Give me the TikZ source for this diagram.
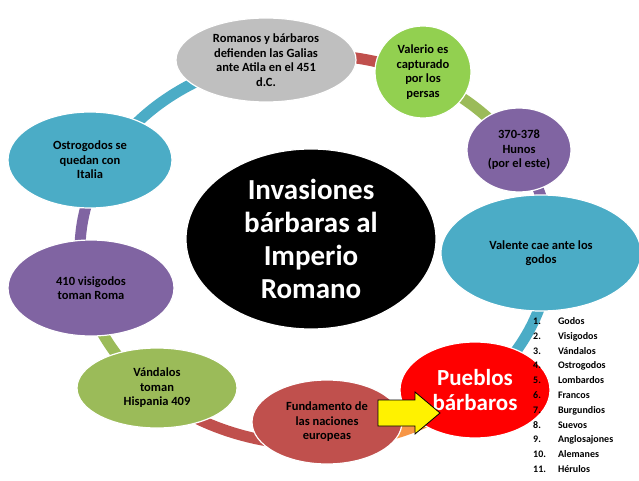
\documentclass[tikz,border=0pt]{standalone}
\usepackage{fontspec}
\setmainfont{Carlito}
\usetikzlibrary{shapes.geometric}
\definecolor{cred}{HTML}{C0504D}
\definecolor{colive}{HTML}{9BBB59}
\definecolor{cpurple}{HTML}{8064A2}
\definecolor{cblue}{HTML}{4BACC6}
\definecolor{corange}{HTML}{F79646}
\definecolor{cgreen}{HTML}{92D050}
\definecolor{cgray}{HTML}{BFBFBF}
\tikzset{
 ev/.style={ellipse,draw=white,line width=1.2pt,inner sep=0pt,align=center,font=\bfseries\fontsize{12.5}{14.5}\selectfont},
 ring/.style={line width=11pt}
}
\begin{document}
\begin{tikzpicture}[x=1pt,y=1pt]
\useasboundingbox (0,0) rectangle (639,480);
\fill[white] (0,0) rectangle (639,480);
\def\rs#1#2#3{\draw[ring,#3] (315,230) ++(#1:235 and 195) arc[start angle=#1,end angle=#2,x radius=235,y radius=195];}
\rs{102}{63}{cred}
\rs{63}{30}{colive}
\rs{30}{0}{cpurple}
\rs{0}{-46}{cblue}
\rs{-46}{-87}{corange}
\rs{-87}{-134}{cred}
\rs{-134}{-170}{colive}
\rs{-170}{-206}{cpurple}
\rs{154}{102}{cblue}
\node[ev,fill=black,minimum width=250pt,minimum height=180pt,text=white,font=\bfseries\fontsize{29}{33}\selectfont] (c) at (311,241) {Invasiones\\bárbaras al\\Imperio\\Romano};
\node[ev,fill=cgray,minimum width=180pt,minimum height=84pt] (g) at (266,420) {Romanos y bárbaros\\defienden las Galias\\ante Atila en el 451\\d.C.};
\node[ev,fill=cgreen,minimum width=96pt,minimum height=92pt] (v) at (423,408) {Valerio es\\capturado\\por los\\persas};
\node[ev,fill=cpurple,minimum width=104pt,minimum height=84pt] (h) at (519,330) {370-378\\Hunos\\(por el este)};
\node[ev,fill=cblue,minimum width=200pt,minimum height=116pt] (va) at (541,227) {Valente cae ante los\\godos};
\node[ev,fill=cred,minimum width=150pt,minimum height=84pt] (f) at (327,58) {Fundamento de\\las naciones\\europeas};
\node[ev,fill=colive,minimum width=160pt,minimum height=80pt] (vd) at (157,92) {Vándalos\\toman\\Hispania 409};
\node[ev,fill=cpurple,minimum width=166pt,minimum height=96pt] (r) at (91,192) {410 visigodos\\toman Roma};
\node[ev,fill=cblue,minimum width=164pt,minimum height=96pt] (o) at (90,320) {Ostrogodos se\\quedan con\\Italia};
\node[ev,fill=red,minimum width=150pt,minimum height=96pt,text=white,font=\bfseries\fontsize{23}{25}\selectfont] (p) at (475,90) {Pueblos\\bárbaros};
\draw[fill=yellow,draw=black,line width=0.8pt] (378,80) -- (415,80) -- (415,88) -- (440,67) -- (415,46) -- (415,54) -- (378,54) -- cycle;
\node[anchor=north west,inner sep=0pt,font=\bfseries\fontsize{10}{14.8}\selectfont] (l) at (533,166) {%
\begin{tabular}{@{}l@{\hspace{12pt}}l@{}}
1.&Godos\\ 2.&Visigodos\\ 3.&Vándalos\\ 4.&Ostrogodos\\ 5.&Lombardos\\ 6.&Francos\\ 7.&Burgundios\\ 8.&Suevos\\ 9.&Anglosajones\\ 10.&Alemanes\\ 11.&Hérulos
\end{tabular}};
\end{tikzpicture}
\end{document}
